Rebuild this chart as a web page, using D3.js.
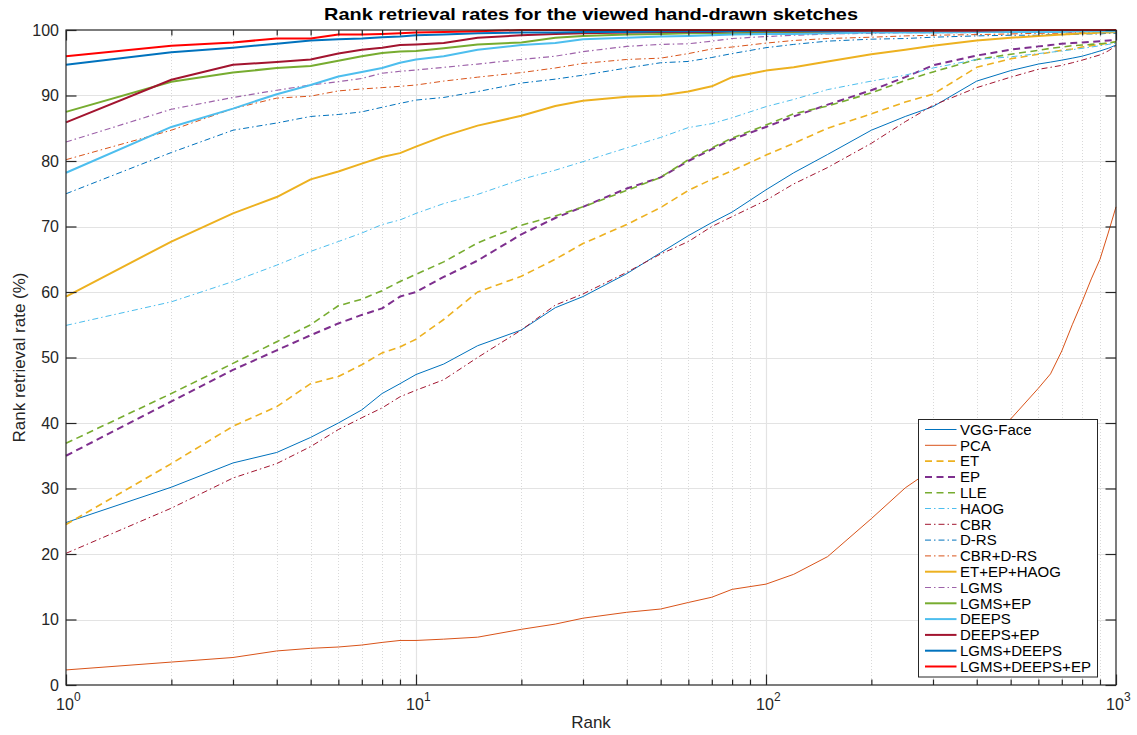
<!DOCTYPE html>
<html>
<head>
<meta charset="utf-8">
<script src="https://cdn.jsdelivr.net/npm/d3@7"></script>
<style>
  html, body { margin: 0; padding: 0; background: #ffffff; }
  svg text { font-family: "Liberation Sans", Arial, Helvetica, sans-serif; fill: #262626; }
</style>
</head>
<body>
<svg id="chart" width="1137" height="735"></svg>
<script>
// Ranks at which the retrieval rates were sampled
const ranks = [1,2,3,4,5,6,7,8,9,10,12,15,20,25,30,40,50,60,70,80,100,120,150,200,250,300,400,500,600,650,700,750,800,850,900,950,1000];

// Rank retrieval rate (%) per method
const vggFace = [24.8,30.2,33.9,35.5,37.8,40.0,42.0,44.5,46.0,47.4,49.0,51.8,54.2,57.6,59.3,62.8,66.0,68.6,70.6,72.2,75.6,78.2,81.0,84.7,86.8,88.3,92.2,93.8,94.8,95.1,95.4,95.7,96.0,96.4,96.8,97.2,97.7];
const pca = [2.3,3.5,4.2,5.2,5.6,5.8,6.1,6.5,6.8,6.8,7.0,7.3,8.5,9.3,10.2,11.1,11.6,12.6,13.4,14.6,15.4,16.9,19.6,25.4,30.1,33.0,37.5,40.6,45.3,47.5,51.0,55.0,58.5,62.0,65.0,69.0,73.0];
const et = [24.5,33.8,39.5,42.5,46.0,47.1,48.9,50.7,51.6,52.8,55.8,60.0,62.4,65.0,67.4,70.3,72.9,75.5,77.2,78.5,80.9,82.7,85.0,87.2,89.0,90.2,94.3,95.6,96.3,96.6,96.9,97.1,97.4,97.6,97.8,98.0,98.2];
const ep = [35.0,43.3,48.1,51.1,53.4,55.2,56.5,57.5,59.3,60.0,62.3,64.8,68.8,71.3,73.0,75.8,77.5,80.0,81.8,83.3,85.2,86.8,88.6,90.8,92.8,94.6,96.1,97.0,97.5,97.7,97.9,98.0,98.1,98.2,98.3,98.4,98.5];
const lle = [36.9,44.5,49.1,52.4,55.0,57.9,58.9,60.2,61.6,62.7,64.6,67.5,70.2,71.6,73.0,75.5,77.5,80.2,82.0,83.5,85.5,87.2,88.4,90.4,92.3,93.6,95.5,96.3,96.9,97.2,97.4,97.6,97.7,97.8,97.9,98.0,98.2];
const haog = [54.9,58.5,61.6,64.1,66.2,67.7,69.0,70.3,71.0,72.0,73.5,74.9,77.2,78.6,79.9,82.0,83.6,85.1,85.7,86.6,88.3,89.4,90.9,92.2,93.1,94.2,95.5,95.9,96.4,96.6,96.8,97.0,97.2,97.4,97.6,97.8,98.0];
const cbr = [20.1,27.0,31.6,33.8,36.4,39.0,40.8,42.3,44.0,45.0,46.6,50.0,54.2,58.0,59.7,63.0,65.8,67.7,70.0,71.5,74.0,76.5,79.0,82.7,86.0,88.5,91.2,92.8,94.0,94.3,94.6,95.0,95.4,95.8,96.2,96.8,97.6];
const dRs = [75.0,81.3,84.7,85.8,86.8,87.1,87.5,88.2,88.8,89.3,89.7,90.6,91.9,92.5,93.1,94.2,95.0,95.2,95.8,96.4,97.3,97.8,98.3,98.6,98.7,98.9,99.1,99.2,99.2,99.3,99.3,99.3,99.4,99.4,99.4,99.5,99.5];
const cbrDRs = [80.2,84.7,88.0,89.6,89.9,90.7,91.0,91.2,91.4,91.6,92.2,92.8,93.5,94.2,94.9,95.5,95.7,96.4,97.1,97.4,98.0,98.4,98.7,98.9,99.1,99.2,99.3,99.4,99.5,99.5,99.5,99.6,99.6,99.6,99.7,99.7,99.7];
const etEpHaog = [59.3,67.7,72.0,74.5,77.2,78.4,79.6,80.6,81.2,82.2,83.8,85.4,86.9,88.4,89.2,89.8,90.0,90.6,91.4,92.8,93.8,94.3,95.2,96.3,97.0,97.6,98.4,98.8,99.1,99.2,99.3,99.4,99.5,99.5,99.6,99.6,99.7];
const lgms = [82.9,87.9,89.7,90.8,91.6,92.1,92.6,93.4,93.7,93.9,94.3,94.8,95.5,96.0,96.7,97.5,97.8,97.9,98.3,98.7,99.0,99.2,99.4,99.5,99.6,99.6,99.6,99.7,99.7,99.7,99.7,99.7,99.8,99.8,99.8,99.8,99.8];
const lgmsEp = [87.5,92.1,93.5,94.2,94.5,95.3,96.0,96.5,96.7,96.8,97.2,97.8,98.1,98.8,99.1,99.3,99.4,99.5,99.5,99.5,99.6,99.6,99.7,99.7,99.7,99.8,99.8,99.8,99.8,99.9,99.9,99.9,99.9,99.9,99.9,99.9,99.9];
const deeps = [78.2,85.2,88.0,90.2,91.6,92.9,93.6,94.2,95.0,95.5,96.0,97.0,97.7,98.0,98.6,98.8,99.0,99.1,99.2,99.3,99.4,99.4,99.5,99.6,99.6,99.6,99.7,99.7,99.7,99.7,99.7,99.8,99.8,99.8,99.8,99.8,99.8];
const deepsEp = [85.9,92.4,94.7,95.1,95.5,96.4,97.0,97.3,97.7,97.8,98.0,98.8,99.2,99.4,99.5,99.6,99.7,99.7,99.7,99.8,99.8,99.8,99.8,99.9,99.9,99.9,99.9,100,100,100,100,100,100,100,100,100,100];
const lgmsDeeps = [94.7,96.6,97.3,97.9,98.4,98.6,98.7,98.9,99.0,99.2,99.3,99.5,99.6,99.6,99.7,99.7,99.8,99.8,99.8,99.8,99.9,99.9,99.9,100,100,100,100,100,100,100,100,100,100,100,100,100,100];
const lgmsDeepsEp = [96.0,97.6,98.1,98.7,98.7,99.3,99.3,99.4,99.5,99.6,99.7,99.8,100,100,100,100,100,100,100,100,100,100,100,100,100,100,100,100,100,100,100,100,100,100,100,100,100];

const seriesNames = ["VGG-Face","PCA","ET","EP","LLE","HAOG","CBR","D-RS","CBR+D-RS","ET+EP+HAOG","LGMS","LGMS+EP","DEEPS","DEEPS+EP","LGMS+DEEPS","LGMS+DEEPS+EP"];
const seriesValues = [vggFace,pca,et,ep,lle,haog,cbr,dRs,cbrDRs,etEpHaog,lgms,lgmsEp,deeps,deepsEp,lgmsDeeps,lgmsDeepsEp];

const yTicks = [0,10,20,30,40,50,60,70,80,90,100];
const xDecades = [1,10,100,1000];

const titleText = "Rank retrieval rates for the viewed hand-drawn sketches";
const xLabelText = "Rank";
const yLabelText = "Rank retrieval rate (%)";

// Line styling per series (same order as seriesNames)
const styles = [
  {color:"#0072BD", width:1.0, dash:null},
  {color:"#D95319", width:1.0, dash:null},
  {color:"#EDB120", width:1.6, dash:"7,4.5"},
  {color:"#7E2F8E", width:2.0, dash:"7,4.5"},
  {color:"#77AC30", width:1.6, dash:"7,4.5"},
  {color:"#4DBEEE", width:1.0, dash:"6,3,1.5,3"},
  {color:"#A2142F", width:1.0, dash:"6,3,1.5,3"},
  {color:"#0072BD", width:1.0, dash:"6,3,1.5,3"},
  {color:"#D95319", width:1.0, dash:"6,3,1.5,3"},
  {color:"#EDB120", width:2.0, dash:null},
  {color:"#7E2F8E", width:1.2, dash:"6,3,1.5,3", opacity:0.75},
  {color:"#77AC30", width:2.0, dash:null},
  {color:"#4DBEEE", width:2.0, dash:null},
  {color:"#A2142F", width:2.0, dash:null},
  {color:"#0072BD", width:2.0, dash:null},
  {color:"#FF0000", width:2.0, dash:null}
];

const svg = d3.select("#chart");
svg.append("rect").attr("width",1137).attr("height",735).attr("fill","#ffffff");

const plotLeft = 66, plotRight = 1116, plotTop = 30, plotBottom = 685;
const x = d3.scaleLog().domain([1,1000]).range([plotLeft,plotRight]);
const y = d3.scaleLinear().domain([0,100]).range([plotBottom,plotTop]);

const axisColor = "#262626";
const g = svg.append("g");

// Minor (dotted) vertical grid at 2..9 within each decade
const minorX = [];
for (let d = 1; d < 1000; d *= 10) for (let k = 2; k <= 9; k++) minorX.push(d*k);
g.append("g").selectAll("line").data(minorX).join("line")
  .attr("x1", d => Math.round(x(d))+0.5).attr("x2", d => Math.round(x(d))+0.5)
  .attr("y1", plotTop).attr("y2", plotBottom)
  .attr("stroke","#d9d9d9").attr("stroke-width",1).attr("stroke-dasharray","1,2");

// Major grid
g.append("g").selectAll("line").data(xDecades.slice(1,-1)).join("line")
  .attr("x1", d => Math.round(x(d))+0.5).attr("x2", d => Math.round(x(d))+0.5)
  .attr("y1", plotTop).attr("y2", plotBottom)
  .attr("stroke","#e3e3e3").attr("stroke-width",1.2);
g.append("g").selectAll("line").data(yTicks.slice(1,-1)).join("line")
  .attr("x1", plotLeft).attr("x2", plotRight)
  .attr("y1", d => Math.round(y(d))+0.5).attr("y2", d => Math.round(y(d))+0.5)
  .attr("stroke","#e3e3e3").attr("stroke-width",1.2);

// Curves
const line = d3.line().x(d => x(d[0])).y(d => y(d[1]));
const curves = svg.append("g");
seriesValues.forEach((vals, i) => {
  const s = styles[i];
  curves.append("path")
    .datum(ranks.map((r, j) => [r, vals[j]]))
    .attr("d", line)
    .attr("fill","none")
    .attr("stroke", s.color)
    .attr("stroke-width", s.width)
    .attr("stroke-opacity", s.opacity || 1)
    .attr("stroke-dasharray", s.dash)
    .attr("stroke-linejoin","round");
});

// Axes box with inward ticks
const ax = svg.append("g");
const majorLen = 10.5, minorLen = 5.5;
ax.append("rect").attr("x",plotLeft).attr("y",plotTop).attr("width",plotRight-plotLeft).attr("height",plotBottom-plotTop)
  .attr("fill","none").attr("stroke",axisColor).attr("stroke-width",1.2);

const xMajorAxisB = d3.axisBottom(x).tickValues(xDecades).tickSize(-majorLen).tickFormat("");
const xMinorAxisB = d3.axisBottom(x).tickValues(minorX).tickSize(-minorLen).tickFormat("");
const xMajorAxisT = d3.axisTop(x).tickValues(xDecades).tickSize(-majorLen).tickFormat("");
const xMinorAxisT = d3.axisTop(x).tickValues(minorX).tickSize(-minorLen).tickFormat("");
const yAxisL = d3.axisLeft(y).tickValues(yTicks).tickSize(-majorLen).tickFormat("");
const yAxisR = d3.axisRight(y).tickValues(yTicks).tickSize(-majorLen).tickFormat("");

function styleAxis(sel) {
  sel.select(".domain").remove();
  sel.selectAll(".tick line").attr("stroke", axisColor).attr("stroke-width", 1.2);
}
ax.append("g").attr("transform",`translate(0,${plotBottom})`).call(xMajorAxisB).call(styleAxis);
ax.append("g").attr("transform",`translate(0,${plotBottom})`).call(xMinorAxisB).call(styleAxis);
ax.append("g").attr("transform",`translate(0,${plotTop})`).call(xMajorAxisT).call(styleAxis);
ax.append("g").attr("transform",`translate(0,${plotTop})`).call(xMinorAxisT).call(styleAxis);
ax.append("g").attr("transform",`translate(${plotLeft},0)`).call(yAxisL).call(styleAxis);
ax.append("g").attr("transform",`translate(${plotRight},0)`).call(yAxisR).call(styleAxis);

// Y tick labels
svg.append("g").selectAll("text").data(yTicks).join("text")
  .attr("x", plotLeft - 7).attr("y", d => y(d) + 5.5)
  .attr("text-anchor","end").attr("font-size", 16)
  .text(d => d);

// X tick labels as powers of ten
const xl = svg.append("g").selectAll("g").data(xDecades).join("g")
  .attr("transform", d => `translate(${x(d)},0)`);
xl.append("text").attr("x", -1).attr("y", 710).attr("text-anchor","middle").attr("font-size",16)
  .text("10");
xl.append("text").attr("x", 8).attr("y", 701).attr("text-anchor","start").attr("font-size",12)
  .text(d => Math.round(Math.log10(d)));

// Titles
svg.append("text").attr("x", (plotLeft+plotRight)/2).attr("y", 20).attr("text-anchor","middle")
  .attr("font-size", 17).attr("font-weight","bold").style("fill","#000")
  .attr("textLength", 534).attr("lengthAdjust","spacingAndGlyphs")
  .text(titleText);
svg.append("text").attr("x", (plotLeft+plotRight)/2).attr("y", 728).attr("text-anchor","middle")
  .attr("font-size", 17).text(xLabelText);
svg.append("text").attr("transform", `translate(25,${(plotTop+plotBottom)/2}) rotate(-90)`)
  .attr("text-anchor","middle").attr("font-size", 17).text(yLabelText);

// Legend
const lgX = 918.5, lgY = 419.5, lgW = 179, lgH = 257.5, rowH = 15.8;
const legend = svg.append("g");
legend.append("rect").attr("x", lgX).attr("y", lgY).attr("width", lgW).attr("height", lgH)
  .attr("fill","#ffffff").attr("stroke", axisColor).attr("stroke-width", 1);
seriesNames.forEach((name, i) => {
  const s = styles[i];
  const cy = lgY + 10 + i * rowH;
  legend.append("line").attr("x1", lgX + 6.5).attr("x2", lgX + 38).attr("y1", cy).attr("y2", cy)
    .attr("stroke", s.color).attr("stroke-width", s.width).attr("stroke-opacity", s.opacity || 1)
    .attr("stroke-dasharray", s.dash);
  legend.append("text").attr("x", lgX + 41.5).attr("y", cy + 5.3).attr("font-size", 15)
    .style("fill","#000").text(name);
});
</script>
</body>
</html>
